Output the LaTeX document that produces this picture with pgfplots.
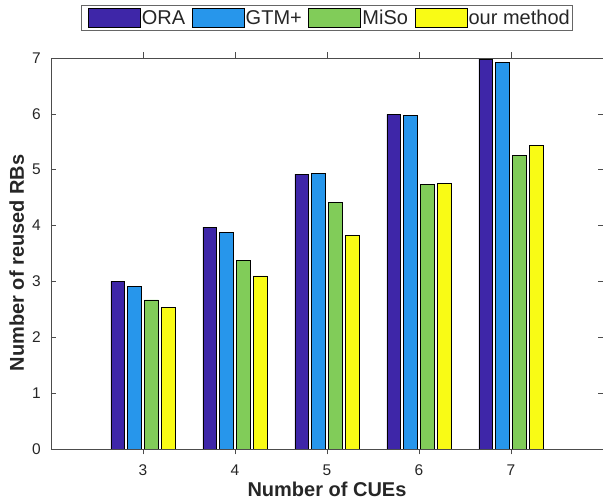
\documentclass[border=0pt]{standalone}
\usepackage{fontspec}
\setmainfont{Liberation Sans}
\usepackage{pgfplots}
\pgfplotsset{compat=1.18}
\definecolor{cORA}{rgb}{0.2422,0.1504,0.6603}
\definecolor{cGTM}{rgb}{0.1540,0.5902,0.9218}
\definecolor{cMiSo}{rgb}{0.5044,0.7993,0.3480}
\definecolor{cOur}{rgb}{0.9769,0.9839,0.0805}
\begin{document}
\begin{tikzpicture}
\begin{axis}[name=ax, scale only axis, width=552pt, height=391pt,
  xmin=2, xmax=8, ymin=0, ymax=7,
  xtick={3,4,5,6,7}, ytick={0,1,2,3,4,5,6,7},
  tick align=inside, major tick length=5.5pt,
  axis line style={black!70, line width=0.6pt},
  tick style={black!70, line width=0.6pt},
  /pgf/number format/assume math mode=true,
  ticklabel style={font=\fontsize{15.5}{18}\selectfont, text=black!85},
  xticklabel style={anchor=north, inner sep=0pt, yshift=-10pt},
  yticklabel style={anchor=east, inner sep=0pt, xshift=-10pt},
  xlabel={Number of CUEs}, ylabel={Number of reused RBs},
  label style={font=\fontsize{20}{24}\selectfont\bfseries, text=black!85},
  xlabel style={at={(axis description cs:0.5,-0.104)}, anchor=center, inner sep=0pt},
  ylabel style={at={(axis description cs:-0.062,0.476)}, anchor=center, inner sep=0pt},
  ybar=2.95pt, bar width=13.8pt,
  legend columns=-1,
  legend style={at={(axis description cs:0.5,1)}, anchor=center, yshift=40pt,
    draw=black!60, line width=0.6pt, inner xsep=1pt, inner ysep=3pt,
    font=\fontsize{20}{24}\selectfont, text=black!85,
    nodes={inner xsep=1.5pt, inner ysep=0pt}},
  legend image code/.code={\path (0pt,0pt); \draw[#1,draw=black,line width=0.6pt] (5pt,-9.5pt) rectangle (57pt,9.5pt);},
]
\addplot[fill=cORA, draw=black, line width=0.6pt] coordinates {(3,3.00) (4,3.97) (5,4.92) (6,5.99) (7,6.98)};
\addplot[fill=cGTM, draw=black, line width=0.6pt] coordinates {(3,2.91) (4,3.88) (5,4.94) (6,5.97) (7,6.92)};
\addplot[fill=cMiSo, draw=black, line width=0.6pt] coordinates {(3,2.67) (4,3.37) (5,4.42) (6,4.73) (7,5.26)};
\addplot[fill=cOur, draw=black, line width=0.6pt] coordinates {(3,2.54) (4,3.10) (5,3.83) (6,4.75) (7,5.44)};
\legend{ORA, GTM+, MiSo, our method}
\end{axis}
\pgfresetboundingbox
\path[use as bounding box] ([xshift=-51pt,yshift=-52pt]ax.south west) rectangle ([yshift=58pt]ax.north east);
\end{tikzpicture}
\end{document}
